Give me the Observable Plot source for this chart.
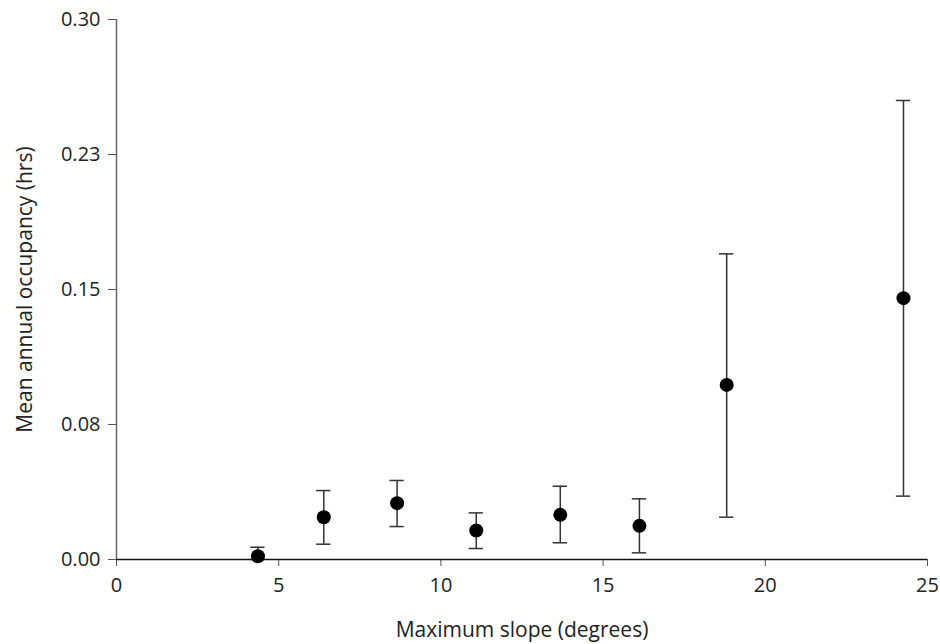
<!DOCTYPE html>
<html>
<head>
<meta charset="utf-8">
<script src="https://cdn.jsdelivr.net/npm/d3@7"></script>
<script src="https://cdn.jsdelivr.net/npm/@observablehq/plot@0.6"></script>
<style>
  html, body { margin: 0; padding: 0; background: #fff; }
</style>
</head>
<body>
<div id="chart"></div>
<script>
const slope = [4.36, 6.39, 8.65, 11.09, 13.68, 16.12, 18.81, 24.26];
const occupancy = [0.0018, 0.0235, 0.0313, 0.0161, 0.0248, 0.0187, 0.0970, 0.1452];
const upper = [0.0068, 0.0383, 0.0439, 0.0259, 0.0407, 0.0337, 0.1698, 0.2550];
const lower = [0.0, 0.0085, 0.0183, 0.0061, 0.0093, 0.0037, 0.0235, 0.0352];
const xTicks = [0, 5, 10, 15, 20, 25];
const yTicks = [0, 0.075, 0.15, 0.225, 0.3];
const yTickLabels = ["0.00", "0.08", "0.15", "0.23", "0.30"];
const xTitle = "Maximum slope (degrees)";
const yTitle = "Mean annual occupancy (hrs)";

const data = slope.map((x, i) => ({x, y: occupancy[i], hi: upper[i], lo: lower[i]}));
const capHalf = 0.22;

const chart = Plot.plot({
  width: 940,
  height: 644,
  marginLeft: 116,
  marginRight: 13,
  marginTop: 19,
  marginBottom: 85,
  style: {fontFamily: "'Open Sans', sans-serif", fontSize: "20px", color: "#222", background: "#fff"},
  x: {domain: [0, 25]},
  y: {domain: [0, 0.3]},
  marks: [
    Plot.axisX({ticks: xTicks, tickSize: 7, tickPadding: 11, label: null, stroke: "#555", fontSize: 20}),
    Plot.axisY({ticks: yTicks, tickSize: 8, tickPadding: 8, label: null, stroke: "#555", fontSize: 20,
      tickFormat: d => yTickLabels[yTicks.indexOf(d)]}),
    Plot.ruleX([0], {y1: 0, y2: 0.3, stroke: "#666", strokeWidth: 1.5}),
    Plot.ruleX(data, {x: "x", y1: "lo", y2: "hi", stroke: "#333", strokeWidth: 1.5}),
    Plot.ruleY(data, {y: "hi", x1: d => d.x - capHalf, x2: d => d.x + capHalf, stroke: "#333", strokeWidth: 1.5}),
    Plot.ruleY(data, {y: "lo", x1: d => d.x - capHalf, x2: d => d.x + capHalf, stroke: "#333", strokeWidth: 1.5}),
    Plot.ruleY([0], {x1: 0, x2: 25, stroke: "#111", strokeWidth: 1.5}),
    Plot.dot(data, {x: "x", y: "y", r: 7, fill: "#000", stroke: "none"}),
    Plot.text([xTitle], {frameAnchor: "bottom", dy: 71, lineAnchor: "middle", textAnchor: "middle", fontSize: 21, fill: "#222"}),
    Plot.text([yTitle], {frameAnchor: "left", dx: -91, rotate: -90, lineAnchor: "middle", textAnchor: "middle", fontSize: 21, fill: "#222"})
  ]
});
document.getElementById("chart").appendChild(chart);
</script>
</body>
</html>
